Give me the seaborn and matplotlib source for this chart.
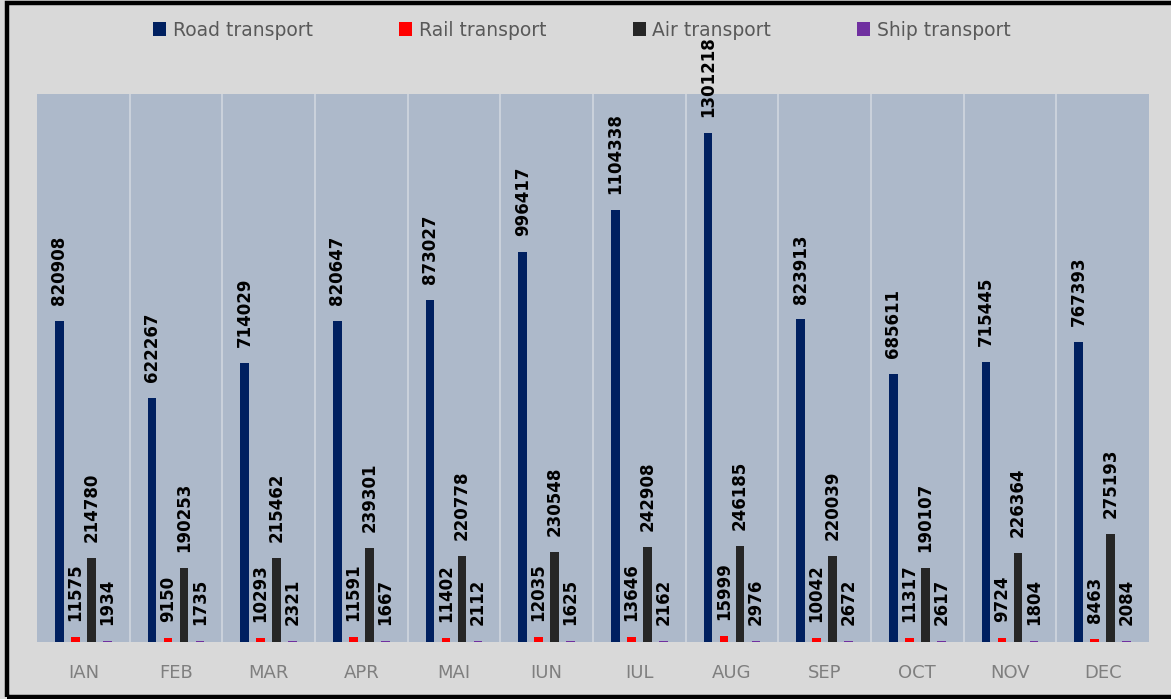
"""Monthly freight by transport mode"""
import matplotlib
matplotlib.use("Agg")
import matplotlib.pyplot as plt
from matplotlib.patches import Rectangle
import pandas as pd
import seaborn as sns

months = ["IAN", "FEB", "MAR", "APR", "MAI", "IUN", "IUL", "AUG", "SEP", "OCT", "NOV", "DEC"]
road = [820908, 622267, 714029, 820647, 873027, 996417, 1104338, 1301218, 823913, 685611, 715445, 767393]
rail = [11575, 9150, 10293, 11591, 11402, 12035, 13646, 15999, 10042, 11317, 9724, 8463]
air = [214780, 190253, 215462, 239301, 220778, 230548, 242908, 246185, 220039, 190107, 226364, 275193]
ship = [1934, 1735, 2321, 1667, 2112, 1625, 2162, 2976, 2672, 2617, 1804, 2084]

modes = ["Road transport", "Rail transport", "Air transport", "Ship transport"]
colors = ["#002060", "#FF0000", "#262626", "#7030A0"]

df = pd.DataFrame({"Month": months * 4,
                   "Value": road + rail + air + ship,
                   "Mode": [m for m in modes for _ in months]})

sns.set_style("white")
plt.rcParams["font.family"] = ["DejaVu Sans"]

fig = plt.figure(figsize=(11.71, 6.99), dpi=100)
fig.patch.set_facecolor("#D9D9D9")
ax = fig.add_axes([37 / 1171, 1 - 642 / 699, (1149 - 37) / 1171, (642 - 94) / 699])
ax.set_facecolor("#ADB9CA")

sns.barplot(data=df, x="Month", y="Value", hue="Mode", palette=colors,
            width=0.69, gap=0.45, saturation=1, linewidth=0, ax=ax)

for cont in ax.containers:
    ax.bar_label(cont, fmt="%d", rotation=90, padding=11.5,
                 fontsize=12, fontweight="bold", color="black")

ax.set_ylim(0, 1400000)
ax.set_xlim(-0.5, len(months) - 0.5)
ax.set_yticks([])
ax.set_xlabel("")
ax.set_ylabel("")
ax.set_xticks(range(len(months)), months)
ax.tick_params(axis="x", length=0, pad=16, labelsize=13, labelcolor="#7F7F7F")
ax.set_xticks([i + 0.5 for i in range(len(months) - 1)], minor=True)
ax.tick_params(axis="x", which="minor", length=0)
ax.grid(axis="x", which="minor", color="#D0D6DF", lw=1.2)
ax.set_axisbelow(True)
for s in ax.spines.values():
    s.set_visible(False)

handles, labels = ax.get_legend_handles_labels()
ax.get_legend().remove()
fig.legend(handles, labels, loc="center", bbox_to_anchor=(0.497, 0.957), ncol=4,
           frameon=False, fontsize=13.5, labelcolor="#595959",
           handlelength=0.7, handleheight=0.7, handletextpad=0.35, columnspacing=4.6)

# black frame around the chart
fig.add_artist(Rectangle((7 / 1171, 2 / 699), 1.2, 1 - 5 / 699, transform=fig.transFigure,
                         fill=False, edgecolor="black", lw=3.2, clip_on=False))

fig.savefig("out.png", dpi=100, facecolor=fig.get_facecolor())
